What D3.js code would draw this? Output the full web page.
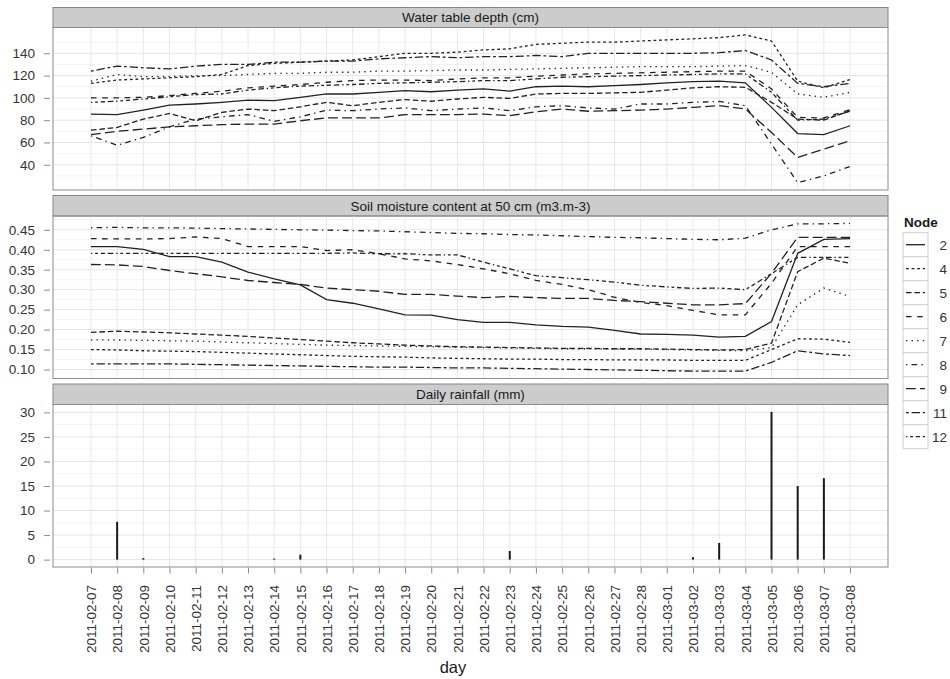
<!DOCTYPE html>
<html>
<head>
<meta charset="utf-8">
<script src="https://cdn.jsdelivr.net/npm/d3@7"></script>
<style>
  body { margin: 0; background: #fff; }
  svg text { font-family: "Liberation Sans", Arial, Helvetica, sans-serif; }
</style>
</head>
<body>
<div id="chart"></div>
<script>
// Days (x axis)
var days = ['2011-02-07','2011-02-08','2011-02-09','2011-02-10','2011-02-11','2011-02-12','2011-02-13',
    '2011-02-14','2011-02-15','2011-02-16','2011-02-17','2011-02-18','2011-02-19','2011-02-20',
    '2011-02-21','2011-02-22','2011-02-23','2011-02-24','2011-02-25','2011-02-26','2011-02-27',
    '2011-02-28','2011-03-01','2011-03-02','2011-03-03','2011-03-04','2011-03-05','2011-03-06',
    '2011-03-07','2011-03-08'];

var nodes = ['2', '4', '5', '6', '7', '8', '9', '11', '12'];

// Water table depth (cm), one array per node
var wt2  = [85.5,85,89,93.5,94.5,96,98,97.5,100.5,103.5,103.5,105,106.5,105.5,107,108,106,110,110.5,110,111,112,113.5,114.5,115,113.5,91.5,68,67,75];
var wt4  = [113,116,117,118,119,121,129,131,132,133,134,137,140,140,141,143,144,148,149,150,150,151,152,153,154,156.5,151,115,109,116.5];
var wt5  = [71,73.5,81,86,79.5,87,90,88.5,92,96,93,96,98.5,97,99,100.5,99.5,103.5,104,104,104.5,105,107,109,110,109.5,96,81,80,88.5];
var wt6  = [100,100,100.5,102,104,106,109,110.5,112,114,115.5,116,116,115.5,117,118,118,119.5,120.5,121.5,122,122.5,123,123.5,124,124,108,82.5,82,89.5];
var wt7  = [115,121,119,119,120,120,121,122,122,123,123,124,124,124.5,125,125,125.5,126,126.5,127,127.5,128,128,128,128.5,129,123,103.5,100.5,105];
var wt8  = [66,57.5,64.5,74,81,83,85,79,83,89,88.5,90,91,88.5,90,91,88.5,92,93,91,90,94.5,94.5,96,96.8,93,58.5,24,30,38.5];
var wt9  = [67,70,72,74,75,76,76.5,76.5,79.5,82,82,82,85,85,85,85.5,84,87.5,90,88,88.5,89,90,91.5,93,90,69,46.5,54,61.5];
var wt11 = [124,128.5,127,126,128.5,130,130,132,132,133,133,135,136,137,136,137,137,138,137,140,140,140,140,140,140.5,142.5,134,113,110,113];
var wt12 = [96,97,99,101,103,103.5,107,109,110.5,111.3,112,113,113.5,114,114.5,115.5,115.5,117,118.5,119,119.5,120,120.5,121,121.5,121.5,105,80,81,88];

// Soil moisture content at 50 cm (m3.m-3), one array per node
var sm2  = [0.408,0.408,0.401,0.383,0.383,0.369,0.344,0.327,0.312,0.275,0.266,0.252,0.237,0.236,0.225,0.218,0.218,0.212,0.208,0.206,0.198,0.189,0.188,0.186,0.181,0.183,0.220,0.391,0.426,0.428];
var sm4  = [0.150,0.149,0.147,0.146,0.145,0.143,0.141,0.139,0.137,0.135,0.133,0.132,0.131,0.129,0.128,0.127,0.126,0.126,0.125,0.125,0.124,0.124,0.124,0.123,0.123,0.123,0.150,0.177,0.176,0.168];
var sm5  = [0.193,0.196,0.194,0.192,0.189,0.186,0.183,0.179,0.175,0.171,0.167,0.164,0.161,0.159,0.157,0.156,0.155,0.154,0.153,0.153,0.152,0.152,0.151,0.150,0.149,0.150,0.166,0.345,0.379,0.366];
var sm6  = [0.428,0.427,0.427,0.428,0.432,0.428,0.408,0.408,0.408,0.398,0.400,0.390,0.377,0.372,0.363,0.352,0.340,0.323,0.313,0.300,0.281,0.268,0.260,0.248,0.237,0.237,0.316,0.408,0.408,0.408];
var sm7  = [0.174,0.174,0.173,0.172,0.171,0.169,0.167,0.165,0.163,0.161,0.160,0.159,0.158,0.157,0.156,0.155,0.154,0.153,0.152,0.152,0.151,0.151,0.150,0.149,0.148,0.147,0.155,0.262,0.304,0.283];
var sm8  = [0.455,0.456,0.455,0.455,0.454,0.453,0.452,0.451,0.450,0.449,0.448,0.447,0.445,0.443,0.441,0.440,0.438,0.437,0.435,0.433,0.431,0.430,0.428,0.426,0.425,0.429,0.450,0.465,0.465,0.466];
var sm9  = [0.363,0.362,0.358,0.348,0.340,0.332,0.323,0.318,0.313,0.304,0.300,0.296,0.288,0.288,0.284,0.280,0.283,0.280,0.278,0.278,0.273,0.270,0.266,0.262,0.262,0.265,0.341,0.431,0.431,0.431];
var sm11 = [0.114,0.114,0.114,0.114,0.113,0.112,0.111,0.110,0.109,0.108,0.107,0.106,0.106,0.105,0.104,0.104,0.103,0.102,0.101,0.100,0.099,0.098,0.097,0.096,0.096,0.096,0.118,0.147,0.139,0.135];
var sm12 = [0.391,0.391,0.391,0.391,0.391,0.391,0.391,0.391,0.391,0.391,0.392,0.390,0.390,0.387,0.387,0.369,0.352,0.335,0.330,0.325,0.319,0.311,0.307,0.303,0.304,0.300,0.340,0.381,0.381,0.381];

// Daily rainfall (mm)
var rain = [0,7.7,0.3,0,0,0,0,0.1,1.0,0,0,0,0,0,0,0,1.75,0,0,0,0,0,0,0.5,3.4,0,30.1,15.0,16.6,0];

// Tick values
var wtTicks = [40, 60, 80, 100, 120, 140];
var smTicks = [0.10, 0.15, 0.20, 0.25, 0.30, 0.35, 0.40, 0.45];
var rainTicks = [0, 5, 10, 15, 20, 25, 30];

var wtSeries = [wt2, wt4, wt5, wt6, wt7, wt8, wt9, wt11, wt12];
var smSeries = [sm2, sm4, sm5, sm6, sm7, sm8, sm9, sm11, sm12];

// ggplot-style line types (hex patterns), in units
var u = 1.4;
var linetypes = ['', '22', '42', '44', '13', '1343', '73', '2262', '12223242'];
function dash(lt) {
    if (lt === '') return null;
    return lt.split('').map(function(c) { return parseInt(c, 16) * u; }).join(',');
}

var parseDay = d3.utcParse('%Y-%m-%d');
var dates = days.map(parseDay);

var width = 950, height = 679;
var left = 53, right = 888;
var line_col = '#222';

var svg = d3.select('#chart')
    .append('svg')
    .attr('width', width)
    .attr('height', height);

// x scale with 5% expansion
var xExt = d3.extent(dates);
var span = xExt[1] - xExt[0];
var x_scale = d3.scaleUtc()
    .domain([new Date(+xExt[0] - span * 0.05), new Date(+xExt[1] + span * 0.05)])
    .range([left, right]);

function expanded(values) {
    var ext = d3.extent(values);
    var pad = (ext[1] - ext[0]) * 0.05;
    return [ext[0] - pad, ext[1] + pad];
}

function drawPanel(title, stripTop, top, bottom, domain, ticks, fmt) {
    var y_scale = d3.scaleLinear().domain(domain).range([bottom, top]);
    var g = svg.append('g');

    // strip
    g.append('rect')
        .attr('x', left).attr('y', stripTop)
        .attr('width', right - left).attr('height', top - stripTop)
        .attr('fill', '#cccccc').attr('stroke', '#858585').attr('stroke-width', 1);
    g.append('text')
        .attr('x', (left + right) / 2).attr('y', (stripTop + top) / 2)
        .attr('dy', '0.36em')
        .attr('text-anchor', 'middle')
        .attr('font-size', 13.5)
        .attr('fill', '#1a1a1a')
        .text(title);

    // minor horizontal grid
    var step = ticks[1] - ticks[0];
    var minor = [];
    for (var i = -1; i < ticks.length; i++) {
        var m = ticks[0] + step * (i + 0.5);
        if (m > domain[0] && m < domain[1]) minor.push(m);
    }
    g.selectAll('.minor').data(minor).enter().append('line')
        .attr('x1', left).attr('x2', right)
        .attr('y1', function(d) { return y_scale(d); })
        .attr('y2', function(d) { return y_scale(d); })
        .attr('stroke', '#f3f3f3').attr('stroke-width', 1);
    g.selectAll('.major').data(ticks).enter().append('line')
        .attr('x1', left).attr('x2', right)
        .attr('y1', function(d) { return y_scale(d); })
        .attr('y2', function(d) { return y_scale(d); })
        .attr('stroke', '#e5e5e5').attr('stroke-width', 1);
    g.selectAll('.vgrid').data(dates).enter().append('line')
        .attr('x1', function(d) { return x_scale(d); })
        .attr('x2', function(d) { return x_scale(d); })
        .attr('y1', top).attr('y2', bottom)
        .attr('stroke', '#e8e8e8').attr('stroke-width', 1);

    // y axis
    var y_axis = d3.axisLeft(y_scale)
        .tickValues(ticks)
        .tickFormat(fmt)
        .tickSize(6)
        .tickPadding(9);
    var ax = g.append('g')
        .attr('transform', 'translate(' + (left - 3) + ',0)')
        .call(y_axis);
    ax.select('.domain').remove();
    ax.selectAll('line').attr('stroke', '#8c8c8c');
    ax.selectAll('text')
        .attr('font-size', 13.5)
        .attr('fill', '#333')
        .attr('font-family', '"Liberation Sans", Arial, sans-serif');

    return { g: g, y: y_scale, top: top, bottom: bottom };
}

function drawBorder(p) {
    p.g.append('rect')
        .attr('x', left).attr('y', p.top)
        .attr('width', right - left).attr('height', p.bottom - p.top)
        .attr('fill', 'none').attr('stroke', '#8c8c8c').attr('stroke-width', 1);
}

function drawLines(p, series) {
    var line = d3.line()
        .x(function(d, i) { return x_scale(dates[i]); })
        .y(function(d) { return p.y(d); });
    p.g.selectAll('.series').data(series).enter().append('path')
        .attr('d', line)
        .attr('fill', 'none')
        .attr('stroke', line_col)
        .attr('stroke-width', 1.3)
        .attr('stroke-dasharray', function(d, i) { return dash(linetypes[i]); });
}

var fmt0 = d3.format('d');
var fmt2 = d3.format('.2f');

// Panel 1: water table depth
var p1 = drawPanel('Water table depth (cm)', 7.5, 27.5, 190,
    expanded(d3.merge(wtSeries)), wtTicks, fmt0);
drawLines(p1, wtSeries);
drawBorder(p1);

// Panel 2: soil moisture
var p2 = drawPanel('Soil moisture content at 50 cm (m3.m-3)', 195.5, 216, 378.5,
    expanded(d3.merge(smSeries)), smTicks, fmt2);
drawLines(p2, smSeries);
drawBorder(p2);

// Panel 3: rainfall
var p3 = drawPanel('Daily rainfall (mm)', 384, 404.5, 567,
    expanded([0].concat(rain)), rainTicks, fmt0);
p3.g.selectAll('.bar')
    .data(rain.map(function(d, i) { return { v: d, day: dates[i] }; })
        .filter(function(d) { return d.v > 0; }))
    .enter()
    .append('rect')
    .attr('x', function(d) { return x_scale(d.day) - 1; })
    .attr('y', function(d) { return Math.min(p3.y(d.v), p3.y(0) - 1); })
    .attr('width', 2)
    .attr('height', function(d) { return Math.max(p3.y(0) - p3.y(d.v), 1); })
    .attr('fill', '#1a1a1a');
drawBorder(p3);

// x axis
var x_axis = d3.axisBottom(x_scale)
    .tickValues(dates)
    .tickFormat(d3.utcFormat('%Y-%m-%d'))
    .tickSize(6);
var xa = svg.append('g')
    .attr('transform', 'translate(0,' + 567.5 + ')')
    .call(x_axis);
xa.select('.domain').remove();
xa.selectAll('line').attr('stroke', '#8c8c8c');
xa.selectAll('text')
    .attr('font-size', 13.5)
    .attr('fill', '#333')
    .attr('font-family', '"Liberation Sans", Arial, sans-serif')
    .attr('text-anchor', 'end')
    .attr('transform', 'translate(0,' + 17.5 + ') rotate(-90)')
    .attr('x', 0).attr('y', 0).attr('dy', '0.35em');

svg.append('text')
    .attr('x', 453).attr('y', 673)
    .attr('text-anchor', 'middle')
    .attr('font-size', 16.5)
    .attr('fill', '#1a1a1a')
    .text('day');

// Legend
var legend = svg.append('g');
legend.append('text')
    .attr('x', 904).attr('y', 227)
    .attr('font-size', 13.5)
    .attr('font-weight', 'bold')
    .attr('fill', '#1a1a1a')
    .text('Node');

var keyH = 24, keyTop = 232.7;
var keys = legend.selectAll('.key').data(nodes).enter().append('g')
    .attr('transform', function(d, i) { return 'translate(903,' + (keyTop + i * keyH) + ')'; });
keys.append('rect')
    .attr('width', 25).attr('height', keyH)
    .attr('fill', '#fff').attr('stroke', '#d0d0d0').attr('stroke-width', 1);
keys.append('line')
    .attr('x1', 3).attr('x2', 22)
    .attr('y1', keyH / 2).attr('y2', keyH / 2)
    .attr('stroke', line_col).attr('stroke-width', 1.3)
    .attr('stroke-dasharray', function(d, i) { return dash(linetypes[i]); });
keys.append('text')
    .attr('x', 44).attr('y', keyH / 2)
    .attr('dy', '0.36em')
    .attr('text-anchor', 'end')
    .attr('font-size', 13.5)
    .attr('fill', '#333')
    .text(function(d) { return d; });
</script>
</body>
</html>
